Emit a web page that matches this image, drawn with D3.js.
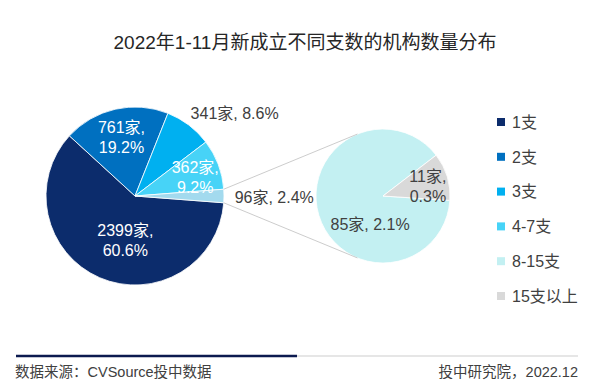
<!DOCTYPE html>
<html>
<head>
<meta charset="utf-8">
<script src="https://cdn.jsdelivr.net/npm/d3@7"></script>
<style>
  body { margin: 0; background: #fff; }
  svg { display: block; font-family: "Liberation Sans", "Noto Sans CJK SC", sans-serif; }
</style>
</head>
<body>
<svg id="chart" width="598" height="391"></svg>
<script>
// Data
var categories = ["1支", "2支", "3支", "4-7支", "8-15支", "15支以上"];
var counts = [2399, 761, 341, 362, 85, 11];
var shares = ["60.6%", "19.2%", "8.6%", "9.2%", "2.1%", "0.3%"];
var otherShare = "2.4%";
var colors = ["#0c2c6c", "#0070c0", "#00b0f0", "#47d3f7", "#c3f0f2", "#d9d9d9"];
var otherColor = "#a3daee";

var title = "2022年1-11月新成立不同支数的机构数量分布";
var sourceText = "数据来源：CVSource投中数据";
var creditText = "投中研究院，2022.12";

// Layout
var main = { cx: 135, cy: 196, r: 89 };
var sub = { cx: 383, cy: 196, r: 67 };
var rad = Math.PI / 180;

var svg = d3.select("#chart");

// Title
svg.append("text")
  .attr("x", 305)
  .attr("y", 49)
  .style("text-anchor", "middle")
  .style("font-size", "19px")
  .style("fill", "#262626")
  .text(title);

// Main pie: first four categories plus the combined remainder
var otherCount = d3.sum(counts.slice(4));
var mainData = counts.slice(0, 4).map(function(v, i) {
  return { value: v, color: colors[i], label: [v + "家,", shares[i]] };
});
mainData[2].label = [counts[2] + "家, " + shares[2]];
mainData.push({ value: otherCount, color: otherColor, label: [otherCount + "家, " + otherShare] });

var total = d3.sum(mainData, function(d) { return d.value; });
var mainStart = Math.PI / 2 + Math.PI * otherCount / total;

var mainPie = d3.pie()
  .sort(null)
  .value(function(d) { return d.value; })
  .startAngle(mainStart)
  .endAngle(mainStart + 2 * Math.PI);

var mainArcs = mainPie(mainData);
var mainArc = d3.arc().innerRadius(0).outerRadius(main.r);

var gMain = svg.append("g")
  .attr("transform", "translate(" + main.cx + "," + main.cy + ")");

gMain.selectAll("path")
  .data(mainArcs)
  .enter().append("path")
    .attr("d", mainArc)
    .style("fill", function(d) { return d.data.color; })
    .style("stroke", "#fff")
    .style("stroke-width", 0.8);

// Secondary pie: breakdown of the remainder
var subData = [
  { value: counts[4], color: colors[4], label: [counts[4] + "家, " + shares[4]] },
  { value: counts[5], color: colors[5], label: [counts[5] + "家,", shares[5]] }
];
var subStart = 93.75 * rad;
var subPie = d3.pie()
  .sort(null)
  .value(function(d) { return d.value; })
  .startAngle(subStart)
  .endAngle(subStart + 2 * Math.PI);
var subArcs = subPie(subData);
var subArc = d3.arc().innerRadius(0).outerRadius(sub.r);

var gSub = svg.append("g")
  .attr("transform", "translate(" + sub.cx + "," + sub.cy + ")");

gSub.selectAll("path")
  .data(subArcs)
  .enter().append("path")
    .attr("d", subArc)
    .style("fill", function(d) { return d.data.color; })
    .style("stroke", "#fff")
    .style("stroke-width", 0.8);

// Connector lines from the remainder slice to tangents of the secondary pie
var otherArc = mainArcs[4];
function polar(c, r, a) {
  return [c.cx + r * Math.sin(a), c.cy - r * Math.cos(a)];
}
function tangent(p, upper) {
  var dx = sub.cx - p[0], dy = sub.cy - p[1];
  var d = Math.sqrt(dx * dx + dy * dy);
  var base = Math.atan2(p[1] - sub.cy, p[0] - sub.cx);
  var off = Math.acos(sub.r / d);
  var a = upper ? base + off : base - off;
  return [sub.cx + sub.r * Math.cos(a), sub.cy + sub.r * Math.sin(a)];
}
var edgeA = polar(main, main.r, otherArc.startAngle);
var edgeB = polar(main, main.r, otherArc.endAngle);
var upperEdge = edgeA[1] < edgeB[1] ? edgeA : edgeB;
var lowerEdge = edgeA[1] < edgeB[1] ? edgeB : edgeA;
var tU = tangent(upperEdge, true);
var tL = tangent(lowerEdge, false);
if (tU[1] > tL[1]) { var tmp = tU; tU = tL; tL = tmp; }

[[upperEdge, tU], [lowerEdge, tL]].forEach(function(seg) {
  svg.append("line")
    .attr("x1", seg[0][0]).attr("y1", seg[0][1])
    .attr("x2", seg[1][0]).attr("y2", seg[1][1])
    .style("stroke", "#bfbfbf")
    .style("stroke-width", 0.8);
});

// Label placement per slice: angle (deg, null = slice middle), radius fraction, anchor, fill
var mainLabelLayout = [
  { a: null, rf: 0.50, anchor: "middle", fill: "#fff", dx: 8, dy: 3 },
  { a: null, rf: 0.68, anchor: "middle", fill: "#fff", dx: 0, dy: 0 },
  { a: null, rf: 1.07, anchor: "start", fill: "#404040", dx: -2, dy: -7 },
  { a: null, rf: 0.70, anchor: "middle", fill: "#fff", dx: 2, dy: 3 },
  { a: null, rf: 1.12, anchor: "start", fill: "#404040", dx: 0, dy: 1 }
];
var subLabelLayout = [
  { a: 209, rf: 0.46, anchor: "middle", fill: "#404040", dx: 2, dy: 1 },
  { a: null, rf: 0.70, anchor: "middle", fill: "#404040", dx: 0, dy: 4 }
];

function drawLabels(g, arcs, layout, r) {
  arcs.forEach(function(d, i) {
    var L = layout[i];
    var a = L.a === null ? (d.startAngle + d.endAngle) / 2 : L.a * rad;
    var x = L.rf * r * Math.sin(a) + L.dx;
    var y = -L.rf * r * Math.cos(a) + L.dy;
    var lines = d.data.label;
    var lh = 20;
    var t = g.append("text")
      .attr("x", x)
      .attr("y", y - (lines.length - 1) * lh / 2)
      .style("text-anchor", L.anchor)
      .style("font-size", "16px")
      .style("fill", L.fill);
    lines.forEach(function(s, k) {
      t.append("tspan")
        .attr("x", x)
        .attr("dy", k === 0 ? "0.36em" : lh)
        .text(s);
    });
  });
}

drawLabels(gMain, mainArcs, mainLabelLayout, main.r);
drawLabels(gSub, subArcs, subLabelLayout, sub.r);

// Legend
var legend = svg.append("g").attr("transform", "translate(497,122)");
var legRow = legend.selectAll("g")
  .data(categories)
  .enter().append("g")
    .attr("transform", function(d, i) { return "translate(0," + (i * 34.8) + ")"; });
legRow.append("rect")
  .attr("x", 0).attr("y", -4)
  .attr("width", 8).attr("height", 8)
  .style("fill", function(d, i) { return colors[i]; });
legRow.append("text")
  .attr("x", 15)
  .attr("y", 0)
  .attr("dy", "0.36em")
  .style("font-size", "16px")
  .style("fill", "#404040")
  .text(function(d) { return d; });

// Footer rule and source
svg.append("line")
  .attr("x1", 297).attr("x2", 578)
  .attr("y1", 356).attr("y2", 356)
  .style("stroke", "#e6e6e6")
  .style("stroke-width", 2);
svg.append("line")
  .attr("x1", 16).attr("x2", 297)
  .attr("y1", 356).attr("y2", 356)
  .style("stroke", "#0c1a4f")
  .style("stroke-width", 2.5);

svg.append("text")
  .attr("x", 15)
  .attr("y", 372)
  .attr("dy", "0.36em")
  .style("font-size", "14.5px")
  .style("fill", "#404040")
  .text(sourceText);
svg.append("text")
  .attr("x", 578)
  .attr("y", 372)
  .attr("dy", "0.36em")
  .style("text-anchor", "end")
  .style("font-size", "14.5px")
  .style("fill", "#404040")
  .text(creditText);
</script>
</body>
</html>
